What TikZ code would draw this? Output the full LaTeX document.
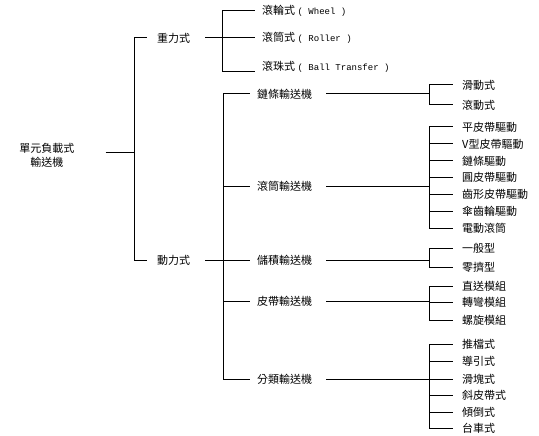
\documentclass[tikz,border=0pt]{standalone}
\usepackage{fontspec}
\setmainfont{Noto Sans CJK TC}
\setmonofont{Liberation Mono}
\begin{document}
\begin{tikzpicture}[x=1pt,y=-1pt,
  txt/.style={inner sep=0pt, font=\fontsize{11}{14}\selectfont},
  lf/.style={txt, anchor=west},
  ln/.style={line width=1pt, black}]
\useasboundingbox (0,0) rectangle (539,436);
% root
\node[txt, align=center] (root) at (47,155) {單元負載式\\輸送機};
\coordinate (r0) at (134,38);
\coordinate (r1) at (134,260);
\coordinate (rj) at (134,153);
\draw[ln] (r0) -- (r1);
\draw[ln] ([xshift=31pt]root.east |- rj) -- (rj);
% level 1
\node[lf] (g1) at (157,38) {重力式};
\node[lf] (g2) at (157,260) {動力式};
\draw[ln] (r0) -- ([xshift=-10pt]g1.west);
\draw[ln] (r1) -- ([xshift=-10pt]g2.west);
% gravity
\node[lf] (a1) at (262,11) {滾輪式 {\ttfamily\fontsize{9}{11}\selectfont( Wheel )}};
\node[lf] (a2) at (262,38) {滾筒式 {\ttfamily\fontsize{9}{11}\selectfont( Roller )}};
\node[lf] (a3) at (262,67) {滾珠式 {\ttfamily\fontsize{9}{11}\selectfont( Ball Transfer )}};
\coordinate (v1t) at (222,11);
\coordinate (v1b) at (222,72);
\draw[ln] (v1t) -- (v1b);
\draw[ln] ([xshift=15pt]g1.east) -- ([xshift=-7pt]a2.west |- g1.east);
\draw[ln] (v1t) -- ([xshift=-7pt]a1.west |- v1t);
\draw[ln] (v1b) -- ([xshift=-7pt]a3.west |- v1b);
% power
\node[lf] (b1) at (257,94) {鏈條輸送機};
\node[lf] (b2) at (257,186) {滾筒輸送機};
\node[lf] (b3) at (257,260) {儲積輸送機};
\node[lf] (b4) at (257,301) {皮帶輸送機};
\node[lf] (b5) at (257,379) {分類輸送機};
\coordinate (v2t) at (223,94);
\coordinate (v2b) at (223,379);
\draw[ln] (v2t) -- (v2b);
\foreach \b in {b1,b2,b3,b4,b5}{
  \draw[ln] (v2t |- \b.west) -- ([xshift=-7pt]\b.west);
}
\draw[ln] ([xshift=15pt]g2.east) -- ([xshift=-7pt]b3.west |- g2.east);
% leaves of b1
\node[lf] (c11) at (462,85) {滑動式};
\node[lf] (c12) at (462,105) {滾動式};
% leaves of b2
\node[lf] (c21) at (462,127) {平皮帶驅動};
\node[lf] (c22) at (462,144) {V型皮帶驅動};
\node[lf] (c23) at (462,161) {鏈條驅動};
\node[lf] (c24) at (462,177) {圓皮帶驅動};
\node[lf] (c25) at (462,194) {齒形皮帶驅動};
\node[lf] (c26) at (462,211) {傘齒輪驅動};
\node[lf] (c27) at (462,228) {電動滾筒};
% leaves of b3
\node[lf] (c31) at (462,248) {一般型};
\node[lf] (c32) at (462,267) {零擠型};
% leaves of b4
\node[lf] (c41) at (462,286) {直送模組};
\node[lf] (c42) at (462,302) {轉彎模組};
\node[lf] (c43) at (462,320) {螺旋模組};
% leaves of b5
\node[lf] (c51) at (462,344) {推檔式};
\node[lf] (c52) at (462,361) {導引式};
\node[lf] (c53) at (462,379) {滑塊式};
\node[lf] (c54) at (462,395) {斜皮帶式};
\node[lf] (c55) at (462,412) {傾倒式};
\node[lf] (c56) at (462,428) {台車式};
% groups
\coordinate (x) at (429,0);
\draw[ln] (x |- c11.west) -- (x |- c12.west);
\draw[ln] (x |- c21.west) -- (x |- c27.west);
\draw[ln] (x |- c31.west) -- (x |- c32.west);
\draw[ln] (x |- c41.west) -- (x |- c43.west);
\draw[ln] (x |- c51.west) -- (x |- c56.west);
\foreach \c in {c11,c12,c21,c22,c23,c24,c25,c26,c27,c31,c32,c41,c42,c43,c51,c52,c53,c54,c55,c56}{
  \draw[ln] (x |- \c.west) -- ([xshift=-9pt]\c.west);
}
\foreach \b in {b1,b2,b3,b4,b5}{
  \draw[ln] ([xshift=14pt]\b.east) -- (x |- \b.east);
}
\end{tikzpicture}
\end{document}
